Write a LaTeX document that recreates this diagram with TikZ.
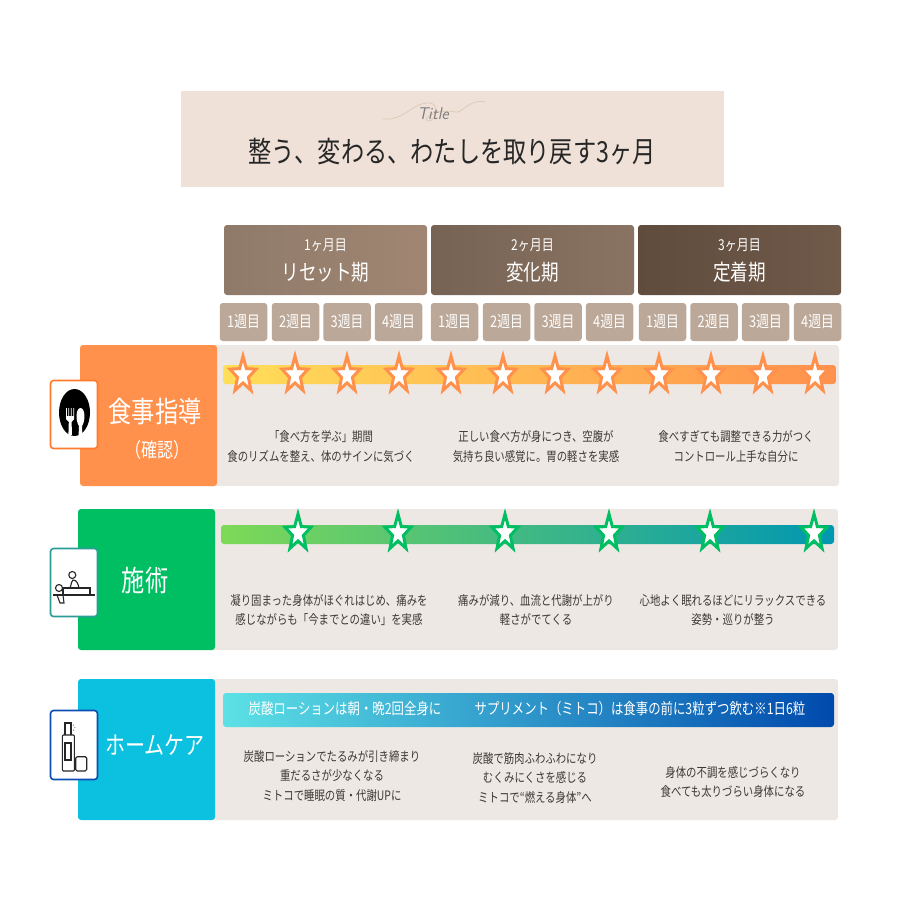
\documentclass[tikz,border=0pt]{standalone}
\usepackage{fontspec}
\usepackage{tikz}
\usetikzlibrary{shapes.geometric}
\newfontfamily\jpfont[FakeStretch=0.8]{Noto Sans CJK JP}
\definecolor{titleBg}{HTML}{EFE1D7}
\definecolor{swirlTan}{HTML}{DCC8B6}
\definecolor{panelBg}{HTML}{EDE8E3}
\definecolor{weekBg}{HTML}{BCA898}
\definecolor{bodyText}{HTML}{3C3836}
\definecolor{orangeMain}{HTML}{FF914D}
\definecolor{greenMain}{HTML}{00BF63}
\definecolor{cyanMain}{HTML}{0CC0DF}
\definecolor{monthOneA}{HTML}{8F7A6A}
\definecolor{monthOneB}{HTML}{A08672}
\definecolor{monthTwoA}{HTML}{766354}
\definecolor{monthTwoB}{HTML}{8A7362}
\definecolor{monthThreeA}{HTML}{5F4C3D}
\definecolor{monthThreeB}{HTML}{705A4A}
\definecolor{barOneA}{HTML}{FFDE59}
\definecolor{barTwoA}{HTML}{7ED957}
\definecolor{barTwoB}{HTML}{0097B2}
\definecolor{barThreeA}{HTML}{5CE1E6}
\definecolor{barThreeB}{HTML}{004AAD}
\definecolor{iconOrange}{HTML}{FF7A2A}
\definecolor{iconTeal}{HTML}{2A9D96}
\definecolor{iconBlue}{HTML}{0B4DB0}
\tikzstyle{monthBox}=[rounded corners=3pt,minimum width=203pt,minimum height=70pt,inner sep=0pt]
\tikzstyle{weekBox}=[fill=weekBg,rounded corners=3pt,minimum width=47.5pt,minimum height=38pt,inner sep=0pt,text=white,font=\jpfont\fontsize{16}{16}\selectfont]
\tikzstyle{sideBox}=[rounded corners=3pt,minimum width=137pt,minimum height=141pt,inner sep=0pt]
\tikzstyle{panelBox}=[fill=panelBg,rounded corners=3pt,minimum height=141pt,inner sep=0pt]
\tikzstyle{iconBox}=[fill=white,rounded corners=3pt,line width=1.6pt,minimum width=47pt,minimum height=68pt,inner sep=0pt]
\tikzstyle{barBox}=[rounded corners=3pt,inner sep=0pt,minimum height=19pt]
\tikzstyle{starMark}=[star,star points=5,star point ratio=2.4,minimum size=38pt,inner sep=0pt,fill=white,line width=3pt,xscale=0.72,transform shape]
\tikzstyle{bodyLabel}=[align=center,text=bodyText,font=\jpfont\fontsize{13}{19.7}\selectfont,inner sep=0pt]
\tikzstyle{sideLabel}=[text=white,inner sep=0pt,font=\jpfont\fontsize{29}{29}\selectfont]
\tikzstyle{iconLine}=[line width=1.1pt,draw=black!85]
\begin{document}
\begin{tikzpicture}[x=1pt,y=-1pt]
  \useasboundingbox (0,0) rectangle (905,905);
  % title
  \node [fill=titleBg,minimum width=543pt,minimum height=96pt,inner sep=0pt] (titleBox) at (452.5,139) {};
  \draw [color=swirlTan,line width=.7pt] (383,119) .. controls (405,121) and (412,102) .. (430,103)
    .. controls (440,104) and (436,122) .. (428,121) .. controls (420,118) and (440,108) .. (455,112)
    .. controls (462,114) and (470,98) .. (485,102);
  \node [text=gray,inner sep=0pt,font=\sffamily\itshape\fontsize{17}{17}\selectfont] (titleTag) at (433,114) {Title};
  \node [text=black!85,inner sep=0pt,font=\jpfont\fontsize{29}{29}\selectfont] (titleText) at (452,152) {整う、変わる、わたしを取り戻す3ヶ月};

  % months
  \node [monthBox,left color=monthOneA,right color=monthOneB] (month1) at (325.5,260) {};
  \node [monthBox,left color=monthTwoA,right color=monthTwoB] (month2) at (532.5,260) {};
  \node [monthBox,left color=monthThreeA,right color=monthThreeB] (month3) at (739.5,260) {};
  \foreach \x/\mnum/\mname in {325.5/1/リセット期,532.5/2/変化期,739.5/3/定着期}{
    \node [text=white,inner sep=0pt,font=\jpfont\fontsize{15}{15}\selectfont] (mnum\mnum) at (\x,245) {\mnum ヶ月目};
    \node [text=white,inner sep=0pt,font=\jpfont\fontsize{22}{22}\selectfont] (mname\mnum) at (\x,272) {\mname};
  }
  % weeks
  \foreach \x/\w [count=\i] in {243.5/1,295.5/2,347/3,398.5/4,454.5/1,506.5/2,558/3,609.5/4,662.5/1,714/2,765.5/3,817.5/4}
    \node [weekBox] (week\i) at (\x,322) {\w 週目};

  % row 1
  \node [panelBox,minimum width=630pt] (panel1) at (524,415.5) {};
  \node [sideBox,fill=orangeMain] (side1) at (148.5,415.5) {};
  \node [barBox,minimum width=613pt,left color=barOneA,right color=orangeMain] (bar1) at (529.5,374.5) {};
  \foreach \x [count=\i] in {243,295,347,399,451,503,555,607,659,711,763,815}
    \node [starMark,draw=orangeMain] (ostar\i) at (\x,375) {};
  \node [sideLabel] (side1a) at (155,411) {食事指導};
  \node [text=white,inner sep=0pt,font=\jpfont\fontsize{20}{20}\selectfont] (side1b) at (157,450) {（確認）};
  \node [bodyLabel] (body1a) at (321,446.5) {「食べ方を学ぶ」期間\\食のリズムを整え、体のサインに気づく};
  \node [bodyLabel] (body1b) at (536,446.5) {正しい食べ方が身につき、空腹が\\気持ち良い感覚に。胃の軽さを実感};
  \node [bodyLabel] (body1c) at (736,446.5) {食べすぎても調整できる力がつく\\コントロール上手な自分に};
  \node [iconBox,draw=iconOrange] (icon1) at (74,414.5) {};
  \node [fill=black,ellipse,minimum width=31pt,minimum height=47pt,inner sep=0pt] (plate) at (74.5,412.5) {};
  \fill [white] (66,408) -- (66.8,408) -- (66.8,416) -- (68.4,416) -- (68.4,408) -- (69.2,408) -- (69.2,416) -- (70.8,416) -- (70.8,408) -- (71.6,408) -- (71.6,416) -- (73.4,416) -- (73.4,408) -- (74.2,408) -- (74.2,419) -- (71.6,422) -- (72,435) -- (68.4,435) -- (68.8,422) -- (66,419) -- cycle;
  \fill [white] (80.5,408) .. controls (76,408) and (75,420) .. (79,426) -- (78.6,435) -- (82.4,435) -- (82,426) .. controls (86,420) and (85,408) .. (80.5,408) -- cycle;

  % row 2
  \node [panelBox,minimum width=630pt] (panel2) at (523,579.5) {};
  \node [sideBox,fill=greenMain] (side2) at (146.5,579.5) {};
  \node [barBox,minimum width=613pt,left color=barTwoA,right color=barTwoB] (bar2) at (527.5,534.5) {};
  \foreach \x [count=\i] in {298,398,505,609,710,814}
    \node [starMark,draw=greenMain] (gstar\i) at (\x,533) {};
  \node [sideLabel] (side2a) at (145,580) {施術};
  \node [bodyLabel] (body2a) at (329,610) {凝り固まった身体がほぐれはじめ、痛みを\\感じながらも「今までとの違い」を実感};
  \node [bodyLabel] (body2b) at (536,610) {痛みが減り、血流と代謝が上がり\\軽さがでてくる};
  \node [bodyLabel] (body2c) at (733,610) {心地よく眠れるほどにリラックスできる\\姿勢・巡りが整う};
  \node [iconBox,draw=iconTeal] (icon2) at (74,582.5) {};
  \draw [iconLine] (53,595) -- (95,595);
  \draw [iconLine] (63,595) -- (63,588) -- (90,588) -- (90,595);
  \draw [iconLine] (72.3,575) circle (3.5);
  \draw [iconLine] (70,588) .. controls (72,583) and (71,581) .. (73,580) .. controls (77,580) and (78,584) .. (79,588);
  \draw [iconLine] (59,588) circle (3.5);
  \draw [iconLine] (57,595) -- (60,603) -- (64,603) -- (63,595);

  % row 3
  \node [panelBox,minimum width=630pt] (panel3) at (523,749.5) {};
  \node [sideBox,fill=cyanMain] (side3) at (146.5,749.5) {};
  \node [barBox,minimum width=611pt,minimum height=34pt,left color=barThreeA,right color=barThreeB] (bar3) at (528.5,710) {};
  \node [text=white,inner sep=0pt,font=\jpfont\fontsize{15.5}{15.5}\selectfont] (bar3a) at (345,709) {炭酸ローションは朝・晩2回全身に};
  \node [text=white,inner sep=0pt,font=\jpfont\fontsize{15.5}{15.5}\selectfont] (bar3b) at (640,709) {サプリメント（ミトコ）は食事の前に3粒ずつ飲む※1日6粒};
  \node [sideLabel,font=\jpfont\fontsize{25}{25}\selectfont] (side3a) at (155,745) {ホームケア};
  \node [bodyLabel] (body3a) at (332,776) {炭酸ローションでたるみが引き締まり\\重だるさが少なくなる\\ミトコで睡眠の質・代謝UPに};
  \node [bodyLabel] (body3b) at (535,778) {炭酸で筋肉ふわふわになり\\むくみにくさを感じる\\ミトコで“燃える身体”へ};
  \node [bodyLabel] (body3c) at (733,782) {身体の不調を感じづらくなり\\食べても太りづらい身体になる};
  \node [iconBox,draw=iconBlue,minimum height=69pt] (icon3) at (74,745) {};
  \draw [iconLine,rounded corners=1pt] (62.3,771) rectangle (74.3,735);
  \draw [iconLine] (65,735) -- (65,723) -- (71,723) -- (71,735);
  \draw [iconLine] (65,743) rectangle (71,760);
  \draw [iconLine,rounded corners=1.5pt] (75.7,771) rectangle (86.7,756.7);
  \fill [black!85] (73.5,725) circle (.5) (74.8,727.7) circle (.5) (73.5,730) circle (.5);
\end{tikzpicture}
\end{document}
